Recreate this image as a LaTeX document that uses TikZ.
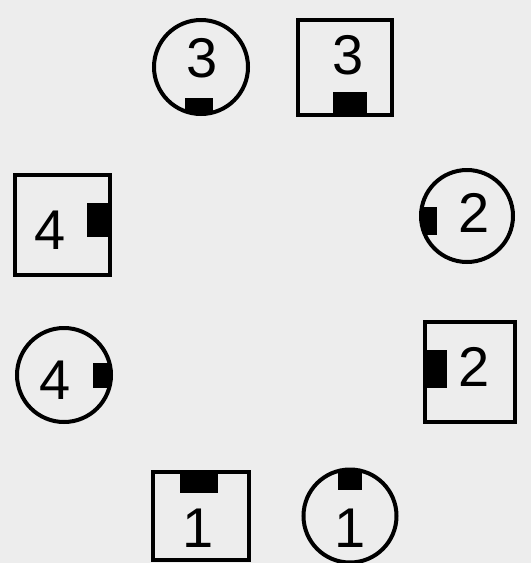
\documentclass[tikz,border=0pt]{standalone}
\usepackage{fontspec}
\setmainfont{Liberation Sans}
\begin{document}
\begin{tikzpicture}[x=1pt,y=-1pt,
  shp/.style={draw=black,line width=4pt,inner sep=0pt},
  rnd/.style={shp,circle,minimum size=94pt},
  box/.style={shp,rectangle},
  dig/.style={font=\fontsize{56}{56}\selectfont,inner sep=0pt},
  pin/.style={fill=black}]
\fill[black!7] (0,0) rectangle (531,563);
\useasboundingbox (0,0) rectangle (531,563);
% circle 3
\begin{scope}\clip (201,67) circle (47);
\fill[pin] (185,98) rectangle (213,120);\end{scope}
\node[rnd] (c3) at (201,67) {};
\node[dig] (t3a) at (202,58) {3};
% square 3
\fill[pin] (333,92) rectangle (367,114);
\node[box,minimum width=94pt,minimum height=95pt] (s3) at (345,67) {};
\node[dig] (t3b) at (348,55) {3};
% square 4
\fill[pin] (87,203) rectangle (108,237);
\node[box,minimum width=95pt,minimum height=100pt] (s4) at (62,225) {};
\node[dig] (t4a) at (50,230) {4};
% circle 2
\begin{scope}\clip (467,216) circle (46);
\fill[pin] (418,207) rectangle (437,235);\end{scope}
\node[rnd,minimum size=92pt] (c2) at (467,216) {};
\node[dig] (t2a) at (474,213) {2};
% circle 4
\begin{scope}\clip (64,375) circle (47);
\fill[pin] (93,363) rectangle (115,388);\end{scope}
\node[rnd] (c4) at (64,375) {};
\node[dig] (t4b) at (55,380) {4};
% square 2
\fill[pin] (427,350) rectangle (447,388);
\node[box,minimum width=90pt,minimum height=100pt] (s2) at (470,372) {};
\node[dig] (t2b) at (474,367) {2};
% square 1
\fill[pin] (180,473) rectangle (218,493);
\node[box,minimum width=96pt,minimum height=88pt] (s1) at (201,516) {};
\node[dig] (t1a) at (198,528) {1};
% circle 1
\begin{scope}\clip (350,516) circle (46);
\fill[pin] (338,466) rectangle (362,490);\end{scope}
\node[rnd,minimum size=93pt] (c1) at (350,516) {};
\node[dig] (t1b) at (350,528) {1};
\end{tikzpicture}
\end{document}
